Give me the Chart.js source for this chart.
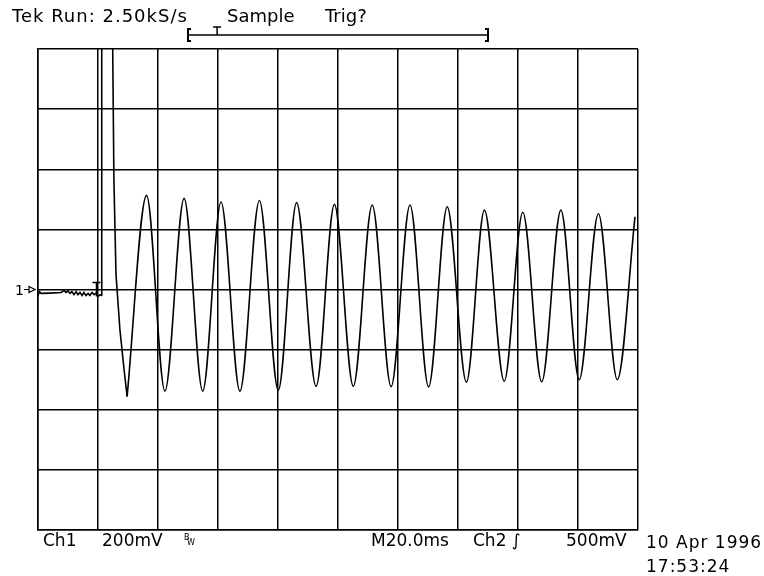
<!DOCTYPE html>
<html>
<head>
<meta charset="utf-8">
<script src="https://cdn.jsdelivr.net/npm/chart.js@4"></script>
<style>
  html, body { margin: 0; padding: 0; background: #fff; }
  #wrap { width: 764px; height: 576px; }
</style>
</head>
<body>
<div id="wrap"><canvas id="scope"></canvas></div>
<script>
// Screen: 10 div x 20 ms, 8 div x 200 mV, 0 mV = ground marker of Ch1
var timeDivs = 10, msPerDiv = 20;
var voltDivs = 8, mvPerDiv = 200;

// Ch1 trace (time in ms from left edge, level in mV)
var noiseTime = [0, 0.5, 1, 4, 7.7, 8.7, 9.3, 10, 10.7, 11.3, 12, 12.7, 13.3, 14, 14.7, 15.3, 16, 16.7, 17.3, 18, 18.7, 19.3, 20, 20.7, 21.2];
var noiseMv = [-20, -7, -13, -12, -10, -3, -10, -5, -13, -7, -17, -7, -17, -10, -20, -10, -20, -13, -20, -10, -17, -13, -23, -17, -20];
var spikeTime = [21.2, 21.25, 24.7, 24.9, 25.3, 26, 27.3, 28.7, 29.7];
var spikeMv = [-20, 900, 900, 803, 367, 50, -133, -267, -356];
var ringTime = [29.7, 36.2, 42.3, 48.7, 54.9, 61.0, 67.3, 73.8, 80.1, 86.2, 92.7, 98.8, 105.1, 111.4, 117.7, 124.0, 130.2, 136.4, 142.8, 148.8, 155.4, 161.6, 167.9, 174.3, 180.4, 186.8, 193.1, 199.0];
var ringMv = [-356, 313, -338, 303, -338, 291, -338, 296, -335, 289, -322, 283, -322, 281, -323, 281, -324, 275, -308, 264, -305, 257, -307, 264, -300, 252, -300, 242];

// trigger point and record bracket (ms)
var trigTime = 19.5;
var recordStart = 50, recordEnd = 150, recordTrig = 59.7;

function toPoints(xs, ys) {
  var pts = [];
  for (var i = 0; i < xs.length; i++) pts.push({ x: xs[i], y: ys[i] });
  return pts;
}

var font = '"DejaVu Sans", sans-serif';

// Scope readouts around the graticule
var scopeText = {
  id: "scopeText",
  afterDraw: function (chart) {
    var ctx = chart.ctx;
    var area = chart.chartArea;
    var xs = chart.scales.x, ys = chart.scales.y;
    ctx.save();
    ctx.fillStyle = "#000";
    ctx.strokeStyle = "#000";
    ctx.textBaseline = "alphabetic";
    ctx.textAlign = "left";

    // header
    ctx.font = "18px " + font;
    ctx.letterSpacing = "1px";
    ctx.fillText("Tek Run: 2.50kS/s", 12, 22);
    ctx.letterSpacing = "0px";
    ctx.fillText("Sample", 227, 22);
    ctx.fillText("Trig?", 325, 22);

    // record bracket
    var bx0 = xs.getPixelForValue(recordStart), bx1 = xs.getPixelForValue(recordEnd);
    var bt = xs.getPixelForValue(recordTrig);
    ctx.lineWidth = 1.5;
    ctx.beginPath();
    ctx.moveTo(bx0, 35); ctx.lineTo(bx1, 35);
    ctx.stroke();
    ctx.lineWidth = 2;
    ctx.beginPath();
    ctx.moveTo(bx0 + 3, 29); ctx.lineTo(bx0, 29); ctx.lineTo(bx0, 41); ctx.lineTo(bx0 + 3, 41);
    ctx.moveTo(bx1 - 3, 29); ctx.lineTo(bx1, 29); ctx.lineTo(bx1, 41); ctx.lineTo(bx1 - 3, 41);
    ctx.stroke();
    ctx.lineWidth = 1.5;
    ctx.beginPath();
    ctx.moveTo(bt - 4, 27); ctx.lineTo(bt + 4, 27);
    ctx.moveTo(bt, 27); ctx.lineTo(bt, 35);
    ctx.stroke();

    // ground marker "1 ->"
    var gy = ys.getPixelForValue(0);
    ctx.font = "14px " + font;
    ctx.fillText("1", area.left - 23, gy + 5);
    ctx.lineWidth = 1.2;
    ctx.beginPath();
    ctx.moveTo(area.left - 14, gy); ctx.lineTo(area.left - 9, gy);
    ctx.moveTo(area.left - 9, gy - 3); ctx.lineTo(area.left - 3, gy); ctx.lineTo(area.left - 9, gy + 3); ctx.closePath();
    ctx.stroke();

    // trigger T at the trigger point
    var tx = xs.getPixelForValue(trigTime);
    ctx.lineWidth = 1.5;
    ctx.beginPath();
    ctx.moveTo(tx - 4, gy - 7); ctx.lineTo(tx + 4, gy - 7);
    ctx.moveTo(tx, gy - 7); ctx.lineTo(tx, gy + 7);
    ctx.stroke();

    // bottom readouts
    var by = area.bottom + 16;
    ctx.font = "17px " + font;
    ctx.fillText("Ch1", 43, by);
    ctx.fillText("200mV", 102, by);
    ctx.font = "8px " + font;
    ctx.fillText("B", 184, by - 6);
    ctx.fillText("W", 187, by - 1);
    ctx.font = "17px " + font;
    ctx.fillText("M20.0ms", 371, by);
    ctx.fillText("Ch2 \u222B", 473, by);
    ctx.fillText("500mV", 566, by);
    ctx.letterSpacing = "1px";
    ctx.fillText("10 Apr 1996", 646, by + 2);
    ctx.fillText("17:53:24", 646, by + 26);
    ctx.restore();
  }
};

var ctx = document.getElementById("scope").getContext("2d");
var chart = new Chart(ctx, {
  type: "line",
  data: {
    datasets: [
      {
        label: "Ch1 pre-trigger",
        data: toPoints(noiseTime, noiseMv).concat(toPoints(spikeTime, spikeMv).slice(1)),
        borderColor: "#000",
        borderWidth: 1.6,
        pointRadius: 0,
        tension: 0,
        fill: false
      },
      {
        label: "Ch1 ringing",
        data: toPoints(ringTime, ringMv),
        borderColor: "#000",
        borderWidth: 1.6,
        pointRadius: 0,
        cubicInterpolationMode: "monotone",
        fill: false
      }
    ]
  },
  options: {
    responsive: true,
    maintainAspectRatio: false,
    animation: false,
    layout: { padding: { left: 38, right: 126, top: 49, bottom: 46 } },
    plugins: {
      legend: { display: false },
      tooltip: { enabled: false }
    },
    scales: {
      x: {
        type: "linear",
        min: 0,
        max: timeDivs * msPerDiv,
        ticks: { display: false, stepSize: msPerDiv },
        grid: { color: "#000", lineWidth: 1.5, drawTicks: false },
        border: { color: "#000", width: 1.5 }
      },
      y: {
        min: -voltDivs / 2 * mvPerDiv,
        max: voltDivs / 2 * mvPerDiv,
        ticks: { display: false, stepSize: mvPerDiv },
        grid: { color: "#000", lineWidth: 1.5, drawTicks: false },
        border: { color: "#000", width: 1.5 }
      }
    }
  },
  plugins: [scopeText]
});
</script>
</body>
</html>
